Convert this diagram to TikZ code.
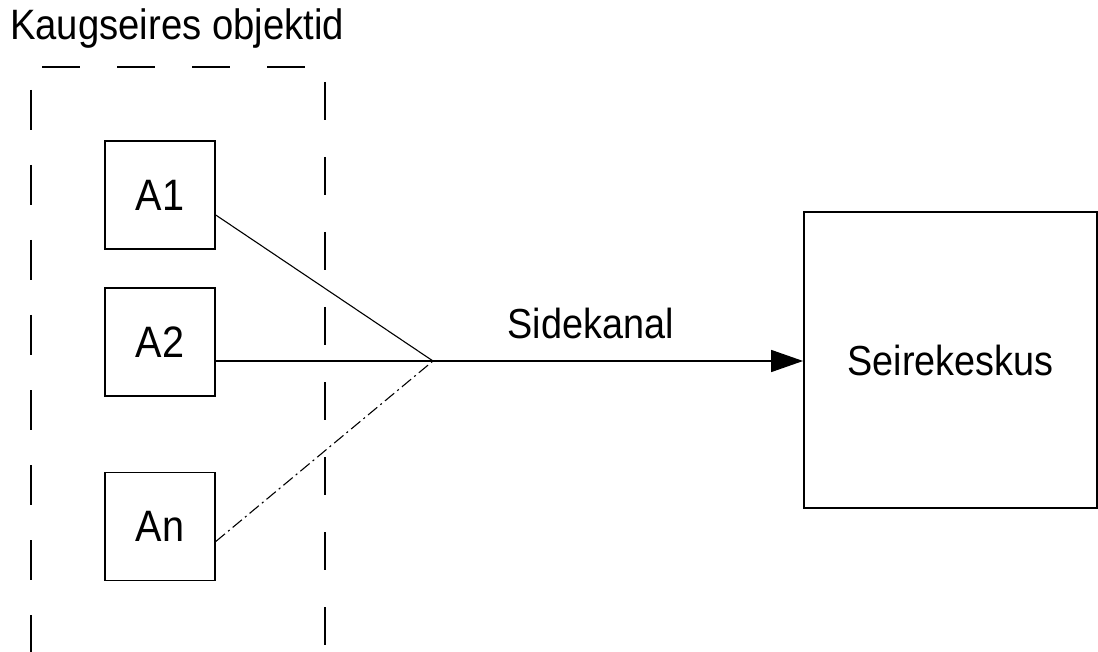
\documentclass[tikz,border=0pt]{standalone}
\usepackage{fontspec}
\setmainfont{Liberation Sans}
\newfontfamily\labelfont[FakeStretch=0.9]{Liberation Sans}
\usetikzlibrary{arrows.meta,calc}

\begin{document}
\begin{tikzpicture}[x=1pt,y=-1pt,
  objbox/.style={draw,line width=1.5pt,minimum width=110pt,minimum height=108pt,inner sep=0pt,
                 font=\labelfont\fontsize{44}{44}\selectfont},
  groupline/.style={line width=1.4pt},
  feed/.style={line width=1.1pt},
  arr/.style={-{Triangle[length=32pt,width=22pt]},line width=1.5pt}]
  \useasboundingbox (0,0) rectangle (1098,652);

  % group of remote objects
  \node[anchor=base west,font=\labelfont\fontsize{42.5}{42.5}\selectfont,inner sep=0pt] (title) at (10,40) {Kaugseires objektid};
  \draw[groupline,dash pattern=on 38pt off 37pt] (42,67) -- (305,67);
  \draw[groupline,dash pattern=on 40pt off 35pt] (31,90) -- (31,652);
  \draw[groupline,dash pattern=on 38pt off 37pt] (325,82) -- (325,652);

  % objects
  \node[objbox] (A1) at (160,195) {A1};
  \node[objbox] (A2) at (160,342) {A2};
  \node[objbox] (An) at (160,526.5) {An};

  % monitoring centre
  \node[draw,line width=1.8pt,minimum width=293pt,minimum height=296pt,inner sep=0pt,
        font=\labelfont\fontsize{42}{42}\selectfont] (S) at (950.5,360) {Seirekeskus};

  % side channel
  \coordinate (m) at (433,361);
  \draw[feed] ([yshift=-20pt]A1.east) -- (m);
  \draw[line width=1.5pt] (A2.east |- m) -- (m);
  \draw[feed,dash pattern=on 12pt off 4pt on 2pt off 4pt] ([yshift=-15pt]An.east) -- (m);
  \draw[arr] (m) -- (S.west |- m);
  \node[anchor=base,font=\labelfont\fontsize{42}{42}\selectfont,inner sep=0pt] (lbl) at (590.5,338) {Sidekanal};
\end{tikzpicture}
\end{document}
